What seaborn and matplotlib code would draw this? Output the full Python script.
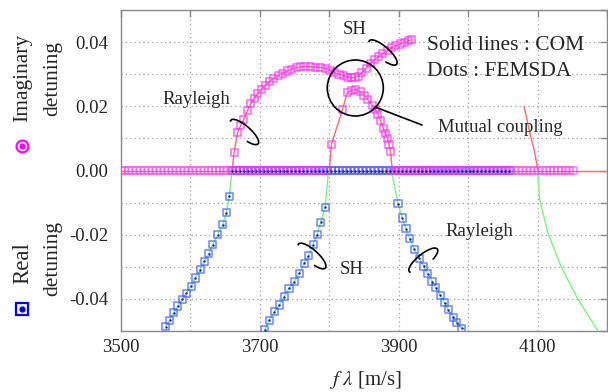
import numpy as np
import pandas as pd
import matplotlib
matplotlib.use("Agg")
import matplotlib.pyplot as plt
import matplotlib.transforms as mtransforms
from matplotlib.patches import Arc, Circle
from matplotlib.lines import Line2D
from matplotlib.ticker import MultipleLocator, FormatStrFormatter
import seaborn as sns

# ---------------- data ----------------
# Imaginary detuning, Rayleigh branch continuing into the SH branch (FEMSDA dots + COM line)
imag_a_f = [3660, 3663, 3668, 3672, 3677, 3682, 3687, 3692, 3697, 3702, 3708, 3714,
            3720, 3727, 3733, 3740, 3746, 3753, 3759, 3766, 3773, 3780, 3787, 3794,
            3801, 3808, 3814, 3820, 3826, 3832, 3837, 3842, 3847, 3853, 3859, 3865,
            3871, 3877, 3884, 3890, 3896, 3902, 3908, 3914, 3918]
imag_a_v = [0.0, 0.0057, 0.0118, 0.0139, 0.0160, 0.0187, 0.0208, 0.0225, 0.0240, 0.0253,
            0.0266, 0.0278, 0.0287, 0.0297, 0.0303, 0.0310, 0.0316, 0.0320, 0.0323, 0.0324,
            0.0323, 0.0322, 0.0321, 0.0318, 0.0312, 0.0305, 0.0300, 0.0296, 0.0291, 0.0289,
            0.0289, 0.0294, 0.0305, 0.0318, 0.0334, 0.0345, 0.0355, 0.0364, 0.0374, 0.0383,
            0.0389, 0.0394, 0.0399, 0.0404, 0.0407]
# Imaginary detuning, lower (mutual coupling) branch
imag_b_f = [3800, 3803, 3819, 3826, 3832, 3838, 3845, 3850, 3855, 3862, 3866, 3870,
            3874, 3878, 3881, 3884, 3886, 3888, 3891]
imag_b_v = [0.0, 0.0080, 0.0190, 0.0243, 0.0249, 0.0253, 0.0245, 0.0235, 0.0222, 0.0203,
            0.0190, 0.0175, 0.0155, 0.0130, 0.0115, 0.0100, 0.0081, 0.0060, 0.0]
# Real detuning branches
real_1_f = [3660, 3656, 3651.5, 3646.5, 3639.5, 3632, 3626.5, 3620, 3614, 3607, 3601,
            3594, 3588, 3582, 3576, 3570, 3564.5]
real_1_v = [0.0, -0.0080, -0.0132, -0.0169, -0.0200, -0.0231, -0.0259, -0.0283, -0.0309,
            -0.0335, -0.0360, -0.0382, -0.0401, -0.0422, -0.0443, -0.0466, -0.0487]
real_2_f = [3799, 3794, 3787.7, 3782.4, 3776.7, 3770, 3764, 3756.6, 3749.5, 3742, 3735,
            3728, 3721, 3713.6, 3707]
real_2_v = [0.0, -0.0114, -0.0161, -0.0200, -0.0231, -0.0266, -0.0289, -0.0320, -0.0346,
            -0.0367, -0.0393, -0.0419, -0.0440, -0.0466, -0.0497]
real_3_f = [3889.5, 3899, 3905, 3910.5, 3915.8, 3922.5, 3929.6, 3936, 3942, 3948, 3953.5,
            3959.7, 3966, 3971.5, 3978.8, 3983.6, 3990.7]
real_3_v = [0.0, -0.0104, -0.0148, -0.0181, -0.0213, -0.0245, -0.0273, -0.0299, -0.0322,
            -0.0346, -0.0365, -0.0388, -0.0412, -0.0434, -0.0457, -0.0474, -0.0492]
# COM-only branches near 4100 m/s
com_imag_4100_f = [4080.6, 4088.7, 4095, 4098.5, 4100]
com_imag_4100_v = [0.020, 0.0118, 0.0066, 0.0025, 0.0]
com_real_4100_f = [4100, 4103, 4115, 4134, 4158, 4187]
com_real_4100_v = [0.0, -0.009, -0.0195, -0.030, -0.040, -0.050]
# COM zero line
com_zero_f = [3500, 4200]
com_zero_v = [0.0, 0.0]
# FEMSDA points lying on zero (frequency sweeps)
sweep_step = 5.7
imag_zero_f = np.concatenate([np.arange(3500, 3800, sweep_step),
                              np.arange(3890, 4156, sweep_step)])
real_zero_f = np.arange(3660, 4062, sweep_step)

x_ticks = [3500, 3700, 3900, 4100]
y_ticks = [-0.04, -0.02, 0.00, 0.02, 0.04]

# ---------------- style ----------------
sns.set_theme(style="white")
plt.rcParams["font.family"] = ["Liberation Serif", "DejaVu Serif"]
plt.rcParams["mathtext.fontset"] = "stix"
plt.rcParams["axes.unicode_minus"] = False

W, H = 608, 392
fig = plt.figure(figsize=(W / 100, H / 100), dpi=100)
ax = fig.add_axes([121 / W, 1 - 331 / H, (607 - 121) / W, (331 - 10) / H])

RED = "#ff6a6a"
GREEN = "#7ef27e"
MAG = "#ff33ff"
BLUE = "#3f5cff"
DOT = "#1020b0"


def com_line(f, v, color):
    sns.lineplot(x=f, y=v, ax=ax, color=color, lw=1.0, sort=False,
                 estimator=None, zorder=2)


def fem_dots(f, v, color, center=False, alpha=0.75):
    sns.scatterplot(x=f, y=v, ax=ax, color=color, marker="s", s=26,
                    facecolor="none", edgecolor=color, linewidth=1.1,
                    alpha=alpha, zorder=3)
    if center:
        sns.scatterplot(x=f, y=v, ax=ax, color=DOT, marker="o", s=3,
                        linewidth=0, zorder=4)


# COM lines
com_line(com_zero_f, com_zero_v, RED)
com_line(imag_a_f, imag_a_v, RED)
com_line(imag_b_f, imag_b_v, RED)
com_line(com_imag_4100_f, com_imag_4100_v, RED)
com_line(real_1_f, real_1_v, GREEN)
com_line(real_2_f, real_2_v, GREEN)
com_line(real_3_f, real_3_v, GREEN)
com_line(com_real_4100_f, com_real_4100_v, GREEN)

# FEMSDA dots
fem_dots(real_zero_f, np.zeros(len(real_zero_f)), BLUE, center=True)
fem_dots(imag_zero_f, np.zeros(len(imag_zero_f)), MAG, alpha=0.6)
fem_dots(real_1_f[1:], real_1_v[1:], BLUE, center=True)
fem_dots(real_2_f[1:], real_2_v[1:], BLUE, center=True)
fem_dots(real_3_f[1:], real_3_v[1:], BLUE, center=True)
fem_dots(imag_a_f[1:], imag_a_v[1:], MAG)
fem_dots(imag_b_f[1:-1], imag_b_v[1:-1], MAG)

# axes
ax.set_xlim(3500, 4200)
ax.set_ylim(-0.05, 0.05)
ax.set_xticks(x_ticks)
ax.set_yticks(y_ticks)
ax.xaxis.set_minor_locator(MultipleLocator(100))
ax.yaxis.set_minor_locator(MultipleLocator(0.01))
ax.yaxis.set_major_formatter(FormatStrFormatter("%.2f"))
ax.grid(which="both", ls=(0, (1, 2.5)), color="#a0a0a0", lw=0.9)
ax.set_axisbelow(True)
ax.tick_params(which="both", direction="in", top=True, right=True,
               length=5, width=1, color="#8a8a8a", labelsize=13.5)
ax.tick_params(axis="y", pad=9)
ax.tick_params(axis="x", pad=6)
for sp in ax.spines.values():
    sp.set_color("#8a8a8a")
    sp.set_linewidth(1)
ax.set_xlabel("")
ax.set_ylabel("")

# ---------------- text ----------------
def P(x, y):
    return x / W, 1 - y / H

fig.text(*P(366, 380), r"$f\ \lambda$ [m/s]", ha="center", va="center", fontsize=15)

fig.text(*P(23, 78), "Imaginary", rotation=90, ha="center", va="center", fontsize=15.5)
fig.text(*P(53, 78), "detuning", rotation=90, ha="center", va="center", fontsize=15.5)
fig.text(*P(23, 263), "Real", rotation=90, ha="center", va="center", fontsize=16.5)
fig.text(*P(53, 258), "detuning", rotation=90, ha="center", va="center", fontsize=15.5)

fig.add_artist(Line2D([22 / W], [1 - 146 / H], transform=fig.transFigure, marker="o",
                      markersize=8.5, mfc="white", mec="#ff00ff", mew=1.6, ls="none"))
fig.add_artist(Line2D([22 / W], [1 - 146 / H], transform=fig.transFigure, marker="o",
                      markersize=3.5, mfc="#ff00ff", mec="#ff00ff", ls="none"))
fig.add_artist(Line2D([22 / W], [1 - 309 / H], transform=fig.transFigure, marker="s",
                      markersize=8.5, mfc="white", mec="#0000ff", mew=1.6, ls="none"))
fig.add_artist(Line2D([22 / W], [1 - 309 / H], transform=fig.transFigure, marker="o",
                      markersize=3.5, mfc="#0000ff", mec="#0000ff", ls="none"))

fig.text(*P(427, 45), "Solid lines : COM", ha="left", va="center", fontsize=15.5)
fig.text(*P(427, 72), "Dots : FEMSDA", ha="left", va="center", fontsize=15.5)
fig.text(*P(355, 30), "SH", ha="center", va="center", fontsize=13.5)
fig.text(*P(196, 100), "Rayleigh", ha="center", va="center", fontsize=13.5)
fig.text(*P(500, 127), "Mutual coupling", ha="center", va="center", fontsize=13.5)
fig.text(*P(352, 270), "SH", ha="center", va="center", fontsize=13.5)
fig.text(*P(479, 232), "Rayleigh", ha="center", va="center", fontsize=13.5)

# annotation arcs / circle in pixel coordinates (y up)
pix = mtransforms.Affine2D().scale(1 / 100) + fig.dpi_scale_trans
for cx, cy, ang in [(244.5, 132, -41), (383, 52.5, -41), (312, 256, -42), (423.3, 260.3, 39)]:
    fig.add_artist(Arc((cx, H - cy), 36, 12, angle=ang, theta1=-35, theta2=185,
                       transform=pix, color="black", lw=1.2))
fig.add_artist(Circle((355.3, H - 88), 28, transform=pix, fill=False, ec="black", lw=1.2))
fig.add_artist(Line2D([375, 422], [H - 107, H - 125], transform=pix, color="black", lw=1.2))

fig.savefig("out.png", dpi=100)
